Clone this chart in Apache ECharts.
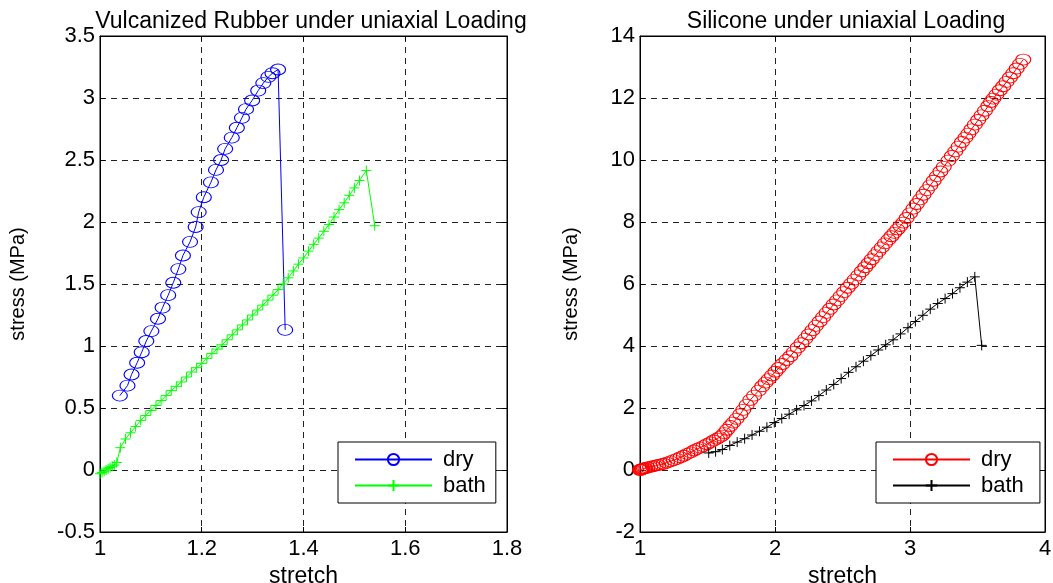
<!DOCTYPE html>
<html>
<head>
<meta charset="utf-8">
<script src="https://cdn.jsdelivr.net/npm/echarts@6/dist/echarts.min.js"></script>
<style>
html,body{margin:0;padding:0;background:#fff;}
#chart{width:1053px;height:583px;}
</style>
</head>
<body>
<div id="chart"></div>
<script>
// ---- data (stretch, stress MPa) ----
const rubberDry = [[1.039,0.60],[1.054,0.68],[1.062,0.77],[1.073,0.865],[1.082,0.95],[1.091,1.04],[1.101,1.12],[1.114,1.22],[1.123,1.31],[1.134,1.41],[1.144,1.51],[1.154,1.62],[1.163,1.73],[1.177,1.84],[1.188,1.96],[1.194,2.08],[1.204,2.20],[1.218,2.32],[1.228,2.42],[1.238,2.50],[1.246,2.59],[1.259,2.68],[1.269,2.76],[1.279,2.84],[1.287,2.91],[1.299,2.98],[1.311,3.06],[1.321,3.12],[1.331,3.17],[1.339,3.20],[1.350,3.23],[1.364,1.13]];
const rubberBath = [[1.000,-0.03],[1.004,-0.02],[1.008,-0.01],[1.012,0.0],[1.016,0.01],[1.020,0.02],[1.024,0.03],[1.028,0.04],[1.033,0.06],[1.040,0.18],[1.050,0.25],[1.060,0.30],[1.070,0.35],[1.080,0.40],[1.090,0.44],[1.100,0.48],[1.110,0.52],[1.120,0.56],[1.130,0.60],[1.140,0.64],[1.150,0.675],[1.160,0.71],[1.170,0.75],[1.180,0.79],[1.190,0.825],[1.200,0.86],[1.210,0.90],[1.220,0.94],[1.230,0.975],[1.240,1.01],[1.250,1.05],[1.260,1.09],[1.270,1.13],[1.280,1.17],[1.290,1.21],[1.300,1.25],[1.310,1.29],[1.320,1.33],[1.330,1.37],[1.340,1.41],[1.350,1.455],[1.360,1.50],[1.370,1.55],[1.380,1.605],[1.390,1.66],[1.400,1.71],[1.410,1.765],[1.420,1.82],[1.430,1.87],[1.440,1.925],[1.450,1.98],[1.460,2.04],[1.470,2.10],[1.480,2.155],[1.490,2.215],[1.500,2.275],[1.510,2.335],[1.5235,2.415],[1.540,1.97]];
const siliconeDry = [[1.000,0.00],[1.005,0.01],[1.010,0.02],[1.015,0.03],[1.020,0.04],[1.030,0.05],[1.040,0.06],[1.055,0.08],[1.075,0.10],[1.095,0.12],[1.115,0.14],[1.135,0.16],[1.155,0.18],[1.176,0.20],[1.200,0.24],[1.225,0.28],[1.250,0.32],[1.275,0.36],[1.300,0.41],[1.325,0.46],[1.350,0.52],[1.375,0.57],[1.400,0.63],[1.423,0.68],[1.445,0.72],[1.470,0.77],[1.495,0.83],[1.521,0.89],[1.545,0.95],[1.570,1.01],[1.590,1.06],[1.608,1.11],[1.625,1.19],[1.645,1.30],[1.669,1.42],[1.690,1.53],[1.715,1.65],[1.743,1.80],[1.765,1.94],[1.790,2.10],[1.817,2.26],[1.845,2.40],[1.879,2.56],[1.905,2.70],[1.930,2.82],[1.953,2.93],[1.978,3.05],[2.003,3.17],[2.027,3.29],[2.055,3.42],[2.085,3.55],[2.113,3.67],[2.140,3.81],[2.168,3.95],[2.196,4.09],[2.224,4.23],[2.250,4.37],[2.277,4.51],[2.303,4.65],[2.330,4.79],[2.356,4.93],[2.382,5.07],[2.408,5.20],[2.434,5.34],[2.460,5.47],[2.486,5.61],[2.512,5.74],[2.538,5.88],[2.564,6.01],[2.590,6.14],[2.617,6.28],[2.643,6.41],[2.668,6.54],[2.693,6.67],[2.717,6.80],[2.742,6.93],[2.766,7.06],[2.791,7.18],[2.815,7.31],[2.840,7.43],[2.862,7.54],[2.884,7.65],[2.906,7.76],[2.928,7.87],[2.950,7.98],[2.975,8.13],[3.000,8.28],[3.025,8.43],[3.050,8.58],[3.075,8.73],[3.100,8.88],[3.125,9.03],[3.150,9.18],[3.175,9.33],[3.200,9.48],[3.225,9.63],[3.250,9.78],[3.284,9.98],[3.310,10.13],[3.335,10.28],[3.360,10.43],[3.385,10.58],[3.410,10.72],[3.432,10.85],[3.455,10.99],[3.480,11.14],[3.505,11.29],[3.530,11.44],[3.555,11.59],[3.580,11.74],[3.600,11.87],[3.617,11.98],[3.640,12.11],[3.665,12.25],[3.690,12.38],[3.715,12.52],[3.740,12.66],[3.765,12.80],[3.790,12.95],[3.815,13.10],[3.839,13.24]];
const siliconeBath = [[1.509,0.55],[1.560,0.59],[1.610,0.66],[1.665,0.79],[1.720,0.90],[1.775,1.01],[1.830,1.13],[1.885,1.25],[1.940,1.38],[1.995,1.53],[2.050,1.66],[2.105,1.80],[2.160,1.94],[2.215,2.08],[2.270,2.23],[2.325,2.40],[2.380,2.58],[2.435,2.76],[2.490,2.95],[2.545,3.15],[2.600,3.33],[2.655,3.51],[2.710,3.69],[2.765,3.87],[2.820,4.04],[2.875,4.20],[2.930,4.39],[2.985,4.59],[3.040,4.79],[3.095,4.99],[3.150,5.19],[3.205,5.37],[3.260,5.53],[3.315,5.69],[3.370,5.88],[3.425,6.06],[3.480,6.23],[3.531,4.02]];

const titles = ['Vulcanized Rubber under uniaxial Loading', 'Silicone under uniaxial Loading'];
const legendNames = [['dry', 'bath'], ['dry ', 'bath ']];
const xName = 'stretch';
const yName = 'stress (MPa)';
const leftX = {min:1, max:1.8, interval:0.2};
const leftY = {min:-0.5, max:3.5, interval:0.5};
const rightX = {min:1, max:4, interval:1};
const rightY = {min:-2, max:14, interval:2};

const FONT = "'Liberation Sans', Arial, Helvetica, sans-serif";
const FS = 22;
const plusPath = 'path://M5,0L5,10M0,5L10,5';

function mainX(idx, r) {
  return {
    type:'value', gridIndex:idx, min:r.min, max:r.max, interval:r.interval, position:'bottom',
    name:xName, nameLocation:'middle', nameGap:27,
    nameTextStyle:{color:'#000', fontSize:23, fontFamily:FONT},
    axisLine:{show:true, onZero:false, lineStyle:{color:'#000', width:1}},
    axisTick:{show:true, inside:true, length:5, lineStyle:{color:'#000'}},
    axisLabel:{color:'#000', fontSize:FS, fontFamily:FONT, margin:6},
    splitLine:{show:true, lineStyle:{color:'#222', type:[6,5], width:1}}
  };
}
function topX(idx, r) {
  return {
    type:'value', gridIndex:idx, min:r.min, max:r.max, interval:r.interval, position:'top',
    axisLine:{show:true, onZero:false, lineStyle:{color:'#000'}},
    axisTick:{show:true, inside:true, length:5, lineStyle:{color:'#000'}},
    axisLabel:{show:false}, splitLine:{show:false}
  };
}
function mainY(idx, r, gap) {
  return {
    type:'value', gridIndex:idx, min:r.min, max:r.max, interval:r.interval, position:'left',
    name:yName, nameLocation:'middle', nameGap:gap, nameRotate:90,
    nameTextStyle:{color:'#000', fontSize:20, fontFamily:FONT},
    axisLine:{show:true, onZero:false, lineStyle:{color:'#000', width:1}},
    axisTick:{show:true, inside:true, length:5, lineStyle:{color:'#000'}},
    axisLabel:{color:'#000', fontSize:FS, fontFamily:FONT, margin:5},
    splitLine:{show:true, lineStyle:{color:'#222', type:[6,5], width:1}}
  };
}
function rightYAxis(idx, r) {
  return {
    type:'value', gridIndex:idx, min:r.min, max:r.max, interval:r.interval, position:'right',
    axisLine:{show:true, onZero:false, lineStyle:{color:'#000'}},
    axisTick:{show:true, inside:true, length:5, lineStyle:{color:'#000'}},
    axisLabel:{show:false}, splitLine:{show:false}
  };
}
function circleSeries(name, data, color, xi, yi) {
  return {
    type:'line', name:name, data:data, xAxisIndex:xi, yAxisIndex:yi,
    symbol:'circle', symbolSize:[15,11], showSymbol:true, showAllSymbol:true,
    itemStyle:{color:'rgba(0,0,0,0)', borderColor:color, borderWidth:1},
    lineStyle:{color:color, width:1}, animation:false, silent:true, clip:false
  };
}
function plusSeries(name, data, color, xi, yi) {
  return {
    type:'line', name:name, data:data, xAxisIndex:xi, yAxisIndex:yi,
    symbol:plusPath, symbolSize:10, showSymbol:true, showAllSymbol:true,
    itemStyle:{color:'rgba(0,0,0,0)', borderColor:color, borderWidth:1},
    lineStyle:{color:color, width:1}, animation:false, silent:true, clip:false
  };
}
function legendAt(left, names) {
  return {
    left:left, top:442, orient:'vertical', data:names,
    backgroundColor:'#fff', borderColor:'#000', borderWidth:1, borderRadius:0,
    padding:[6,10,6,16], itemWidth:77, itemHeight:14, itemGap:3,
    textStyle:{color:'#000', fontSize:FS, fontFamily:FONT, lineHeight:23, padding:[0,0,0,6]}
  };
}
function gridAt(left, width) {
  return {left:left, top:36, width:width, height:496, show:true, borderColor:'#000', borderWidth:1,
          backgroundColor:'#fff', containLabel:false, outerBoundsMode:'none'};
}

const chart = echarts.init(document.getElementById('chart'), null, {renderer:'canvas'});
chart.setOption({
  animation:false,
  backgroundColor:'#fff',
  title:[
    {text:titles[0], left:306, top:5, textAlign:'center', textStyle:{color:'#000', fontWeight:'normal', fontSize:23, fontFamily:FONT}},
    {text:titles[1], left:841, top:5, textAlign:'center', textStyle:{color:'#000', fontWeight:'normal', fontSize:23, fontFamily:FONT}}
  ],
  grid:[gridAt(100, 407), gridAt(640, 405)],
  xAxis:[mainX(0, leftX), mainX(1, rightX), topX(0, leftX), topX(1, rightX)],
  yAxis:[mainY(0, leftY, 72), mainY(1, rightY, 59), rightYAxis(0, leftY), rightYAxis(1, rightY)],
  legend:[legendAt(338, legendNames[0]), legendAt(876, legendNames[1])],
  series:[
    circleSeries(legendNames[0][0], rubberDry, '#0000ff', 0, 0),
    plusSeries(legendNames[0][1], rubberBath, '#00ff00', 0, 0),
    circleSeries(legendNames[1][0], siliconeDry, '#ff0000', 1, 1),
    plusSeries(legendNames[1][1], siliconeBath, '#000000', 1, 1)
  ]
});
</script>
</body>
</html>
